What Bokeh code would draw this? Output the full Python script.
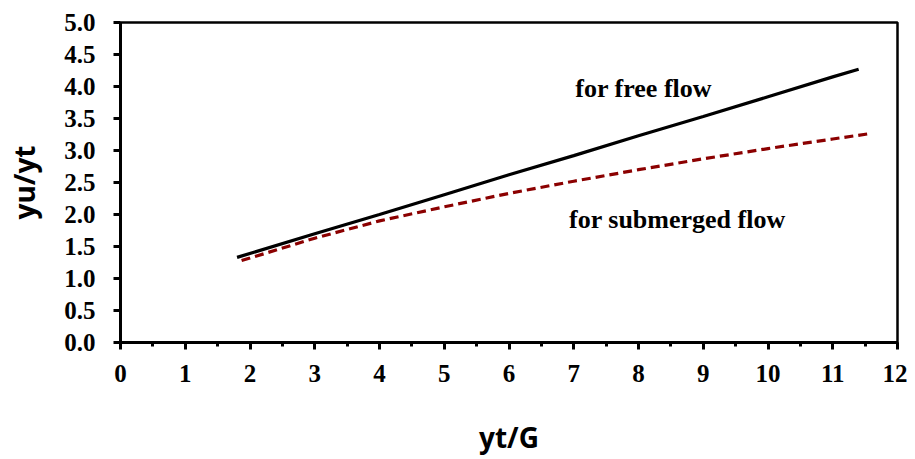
from bokeh.plotting import figure
from bokeh.models import Range1d, SingleIntervalTicker, NumeralTickFormatter, Label
from bokeh.embed import file_html
from bokeh.resources import INLINE

# Data
free_x = [1.8, 3, 4, 5, 6, 7, 8, 9, 10, 11, 11.4]
free_y = [1.33, 1.70, 2.00, 2.31, 2.62, 2.92, 3.23, 3.53, 3.84, 4.15, 4.27]

sub_x = [1.87, 2, 3, 4, 5, 6, 7, 8, 9, 10, 11, 11.55]
sub_y = [1.28, 1.32, 1.63, 1.90, 2.12, 2.33, 2.52, 2.70, 2.87, 3.03, 3.18, 3.26]

x_label = "yt/G"
y_label = "yu/yt"
free_text = "for free flow"
sub_text = "for submerged flow"

p = figure(width=907, height=459, output_backend="svg", toolbar_location=None,
           x_range=Range1d(0, 12), y_range=Range1d(0, 5),
           min_border_left=120, min_border_right=10, min_border_top=22, min_border_bottom=117)
p.xgrid.visible = False
p.ygrid.visible = False
p.outline_line_color = "black"
p.outline_line_width = 2.5
p.background_fill_color = "white"
p.border_fill_color = "white"

p.line(free_x, free_y, line_color="black", line_width=3.2)
p.line(sub_x, sub_y, line_color="#8B0000", line_width=3.2, line_dash="9 5")

xa = p.xaxis[0]
xa.ticker = SingleIntervalTicker(interval=1, num_minor_ticks=2)
ya = p.yaxis[0]
ya.ticker = SingleIntervalTicker(interval=0.5, num_minor_ticks=0)
ya.formatter = NumeralTickFormatter(format="0.0")

for ax in (xa, ya):
    ax.axis_line_color = "black"
    ax.axis_line_width = 3
    ax.major_tick_line_color = "black"
    ax.major_tick_line_width = 3
    ax.major_tick_in = 0
    ax.major_tick_out = 7
    ax.minor_tick_line_color = "black"
    ax.minor_tick_line_width = 3
    ax.minor_tick_in = 0
    ax.minor_tick_out = 4
    ax.major_label_text_font = "Liberation Serif"
    ax.major_label_text_font_style = "bold"
    ax.major_label_text_font_size = "25px"
    ax.major_label_text_color = "black"
    ax.axis_label_text_font = "Open Sans"
    ax.axis_label_text_font_style = "bold"
    ax.axis_label_text_font_size = "28px"
    ax.axis_label_text_color = "black"

ya.minor_tick_line_color = None
ya.major_label_standoff = 18
xa.major_label_standoff = 15
xa.axis_label = x_label
xa.axis_label_standoff = 33
ya.axis_label = y_label
ya.axis_label_standoff = 18

p.add_layout(Label(x=8.08, y=3.97, text=free_text, text_align="center", text_baseline="middle",
                   text_font="Liberation Serif", text_font_style="bold", text_font_size="26px",
                   text_color="black"))
p.add_layout(Label(x=8.6, y=1.92, text=sub_text, text_align="center", text_baseline="middle",
                   text_font="Liberation Serif", text_font_style="bold", text_font_size="26px",
                   text_color="black"))

open("out.html", "w").write(file_html(p, INLINE))
